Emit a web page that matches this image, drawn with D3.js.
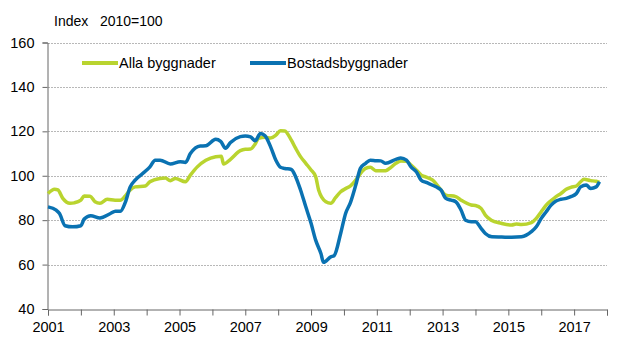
<!DOCTYPE html>
<html>
<head>
<meta charset="utf-8">
<script src="https://cdn.jsdelivr.net/npm/d3@7"></script>
<style>
  body { margin: 0; background: #fff; }
  text { font-family: "Liberation Sans", Arial, sans-serif; fill: #000; }
</style>
</head>
<body>
<div id="chart"></div>
<script>
// index 2010=100 (decimal year, value)
var allaYears = [2001.0, 2001.2, 2001.3, 2001.45, 2001.67, 2001.8, 2002.0, 2002.1, 2002.28, 2002.43, 2002.58, 2002.8, 2003.04, 2003.2, 2003.35, 2003.5, 2003.65, 2003.96,
  2004.1, 2004.4, 2004.57, 2004.72, 2004.87, 2005.18, 2005.33, 2005.54, 2005.8, 2006.1, 2006.27, 2006.34, 2006.55, 2006.85,
  2007.0, 2007.16, 2007.3, 2007.4, 2007.6, 2007.77, 2007.93, 2008.07, 2008.2, 2008.4, 2008.53, 2008.68, 2008.84, 2009.0, 2009.14, 2009.23, 2009.45, 2009.6,
  2009.75, 2009.9, 2010.05, 2010.2, 2010.36, 2010.5, 2010.66, 2010.8, 2010.97, 2011.12, 2011.27, 2011.43, 2011.58, 2011.73, 2011.9, 2012.04, 2012.2, 2012.35, 2012.5,
  2012.7, 2012.95, 2013.1, 2013.4, 2013.56, 2013.87, 2014.0, 2014.17, 2014.3, 2014.48, 2014.78, 2015.1, 2015.24, 2015.4,
  2015.7, 2015.85, 2016.0, 2016.15, 2016.3, 2016.45, 2016.6, 2016.76, 2016.9, 2017.07, 2017.2, 2017.3, 2017.5, 2017.67, 2017.77];
var allaValues = [92, 93.9, 93.6, 89.8, 87.6, 87.8, 89, 90.9, 90.8, 88.3, 87.6, 89.4, 89, 89, 90.9, 93.6, 95, 95.4,
  97.3, 98.8, 99, 97.8, 98.8, 97.3, 100.3, 104, 107, 108.6, 108.8, 105.3, 107.4, 111.3,
  111.9, 112, 114.3, 116.8, 117.3, 117, 118.3, 120.3, 120.2, 116, 112.4, 108.6, 105.6, 102.6, 99.6, 93.6, 88.3, 87.6,
  90.3, 92.8, 94.2, 95.4, 98, 101, 103.3, 103.8, 102.3, 102.2, 102.3, 103.8, 105.6, 106.6, 106.5, 104.8, 102.6, 100.3, 99.4,
  98, 93.6, 91.3, 90.6, 89, 86.8, 86.6, 85.3, 82.3, 80, 78.6, 77.8, 78.3, 78,
  78.9, 80.8, 83.8, 86.8, 88.8, 90.6, 92, 93.9, 94.8, 95.4, 97.3, 98.4, 97.8, 97.5, 97];

var bostadYears = [2001.0, 2001.25, 2001.35, 2001.52, 2001.75, 2002.0, 2002.1, 2002.3, 2002.58, 2002.9, 2003.05, 2003.2, 2003.35, 2003.5, 2003.65, 2003.96,
  2004.1, 2004.26, 2004.41, 2004.72, 2005.02, 2005.18, 2005.33, 2005.63, 2005.8, 2006.1, 2006.25, 2006.4, 2006.55, 2006.85,
  2007.0, 2007.16, 2007.3, 2007.46, 2007.6, 2007.77, 2007.93, 2008.07, 2008.2, 2008.4, 2008.53, 2008.68, 2008.84, 2009.0, 2009.14, 2009.3, 2009.38, 2009.6, 2009.7,
  2009.9, 2010.05, 2010.2, 2010.36, 2010.5, 2010.66, 2010.8, 2010.97, 2011.12, 2011.27, 2011.58, 2011.73, 2011.9, 2012.04, 2012.2, 2012.35, 2012.5,
  2012.8, 2012.95, 2013.1, 2013.26, 2013.4, 2013.56, 2013.7, 2013.87, 2014.0, 2014.17, 2014.3, 2014.5, 2014.8, 2015.1, 2015.4,
  2015.7, 2015.85, 2016.0, 2016.15, 2016.3, 2016.45, 2016.6, 2016.76, 2016.9, 2017.07, 2017.2, 2017.37, 2017.5, 2017.67, 2017.77];
var bostadValues = [86, 84.5, 83, 77.5, 77, 77.5, 80.5, 82, 81, 83, 84, 84, 88, 95, 98, 102,
  104, 107, 107, 105.3, 106.3, 106, 110, 113.4, 113.5, 116.4, 115.5, 112.4, 115, 117.6,
  117.9, 117.5, 115.8, 119, 118, 113, 107, 103.8, 103.3, 102.8, 99.6, 93.6, 86, 78.6, 71, 65, 61, 63.5, 64,
  74, 83, 88, 95.8, 103.3, 105.6, 107, 106.8, 106.7, 105.6, 107.4, 108, 107, 104, 101.8, 98, 97,
  95, 93.6, 89.8, 89, 88.3, 84.6, 80, 79.3, 79.3, 76.3, 74, 72.5, 72.4, 72.3, 72.5,
  74.8, 77, 80.8, 83.8, 86.8, 88.6, 89.4, 89.8, 90.6, 92, 95, 95.8, 94.3, 95, 97.3];

var yTicks = [40, 60, 80, 100, 120, 140, 160];
var xLabels = [2001, 2003, 2005, 2007, 2009, 2011, 2013, 2015, 2017];
var seriesNames = ["Alla byggnader", "Bostadsbyggnader"];
var colors = ["#b9d42f", "#0a72b2"];

var width = 633, height = 363;
var margin = {left: 48, right: 26, top: 42.5, bottom: 54};

var svg = d3.select("#chart").append("svg")
    .attr("width", width)
    .attr("height", height);

var x = d3.scaleLinear().domain([2001, 2018]).range([margin.left, width - margin.right]);
var y = d3.scaleLinear().domain([40, 160]).range([height - margin.bottom, margin.top]);

// grid lines
svg.append("g")
  .selectAll("line")
  .data(yTicks.slice(1))
  .enter()
  .append("line")
    .attr("x1", x(2001))
    .attr("x2", x(2018))
    .attr("y1", function(d) { return Math.round(y(d)) + 0.5; })
    .attr("y2", function(d) { return Math.round(y(d)) + 0.5; })
    .attr("stroke", "#b8b8b8")
    .attr("stroke-dasharray", "2,1");

// y axis
var yAxis = svg.append("g")
    .attr("transform", "translate(" + (x(2001) - 0.5) + ",0)")
    .call(d3.axisLeft(y).tickValues(yTicks).tickSize(5).tickPadding(8));
yAxis.select(".domain").attr("stroke", "#666");
yAxis.selectAll(".tick line").attr("stroke", "#666");
yAxis.selectAll("text").style("font-size", "14.5px").attr("fill", "#000");

// x axis, tick every year, label every other
var xAxis = svg.append("g")
    .attr("transform", "translate(0," + (Math.round(y(40)) + 0.5) + ")")
    .call(d3.axisBottom(x).tickValues(d3.range(2001, 2019)).tickSize(6).tickPadding(6)
      .tickFormat(function(d) { return xLabels.indexOf(d) >= 0 ? d : ""; }));
xAxis.select(".domain").attr("stroke", "#666");
xAxis.selectAll(".tick line").attr("stroke", "#666");
xAxis.selectAll("text").style("font-size", "14.5px").attr("fill", "#000");

var line = d3.line()
    .x(function(d) { return x(d[0]); })
    .y(function(d) { return y(d[1]); })
    .curve(d3.curveMonotoneX);

var series = [
  d3.zip(allaYears, allaValues),
  d3.zip(bostadYears, bostadValues)
];

svg.append("g")
  .selectAll("path")
  .data(series)
  .enter()
  .append("path")
    .attr("d", line)
    .attr("fill", "none")
    .attr("stroke", function(d, i) { return colors[i]; })
    .attr("stroke-width", 3.5)
    .attr("stroke-linejoin", "round");

// legend
var legendX = [82, 250];
var leg = svg.append("g")
  .selectAll("g")
  .data(seriesNames)
  .enter()
  .append("g")
    .attr("transform", function(d, i) { return "translate(" + legendX[i] + ",63)"; });
leg.append("line")
    .attr("x2", 36)
    .attr("stroke", function(d, i) { return colors[i]; })
    .attr("stroke-width", 4);
leg.append("text")
    .attr("x", 37)
    .attr("dy", "0.35em")
    .style("font-size", "14.5px")
    .text(function(d) { return d; });

// title
svg.append("text")
    .attr("x", 54)
    .attr("y", 26)
    .style("font-size", "14px")
    .attr("xml:space", "preserve")
    .text("Index   2010=100");
</script>
</body>
</html>
